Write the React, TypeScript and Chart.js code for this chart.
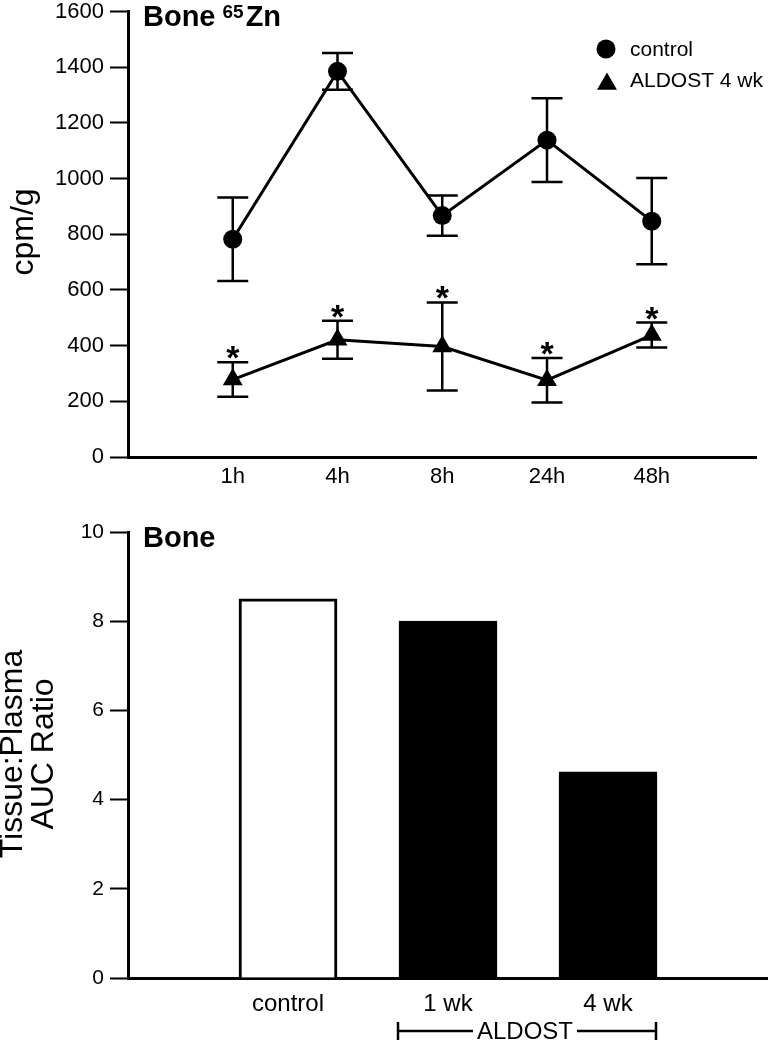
import React, { useEffect, useRef } from 'react';
import { Chart, registerables } from 'chart.js';

Chart.register(...registerables);

// ---------- data ----------
const timeLabels = ['', '1h', '4h', '8h', '24h', '48h', ''];
const controlMean = [null, 782, 1385, 867, 1138, 847, null];
const controlErr = [null, 150, 66, 72, 150, 155, null];
const aldostMean = [null, 278, 421, 397, 276, 438, null];
const aldostErr = [null, 62, 68, 158, 80, 45, null];
const aldostSignificant = [false, true, true, true, true, true, false];
const topYMax = 1600;
const topYStep = 200;

const barLabels = ['', 'control', '1 wk', '4 wk', ''];
const barValues = [null, 8.5, 8.0, 4.62, null];
const barFills = ['#ffffff', '#ffffff', '#000000', '#000000', '#ffffff'];
const bottomYMax = 10;
const bottomYStep = 2;
const bracketLabel = 'ALDOST';
const bracketFrom = 2; // index of '1 wk'
const bracketTo = 3; // index of '4 wk'

const FONT = "'Liberation Sans', Arial, Helvetica, sans-serif";

function drawTriangle(ctx: CanvasRenderingContext2D, x: number, y: number, r: number) {
  ctx.beginPath();
  ctx.moveTo(x, y - r);
  ctx.lineTo(x + r * Math.sin((2 * Math.PI) / 3), y - r * Math.cos((2 * Math.PI) / 3));
  ctx.lineTo(x + r * Math.sin((4 * Math.PI) / 3), y - r * Math.cos((4 * Math.PI) / 3));
  ctx.closePath();
  ctx.fill();
}

const zeroPadX = (s: any, h: number) => {
  s.height = h;
  s.paddingLeft = 0;
  s.paddingRight = 0;
};
const zeroPadY = (s: any) => {
  s.width = 128;
  s.paddingTop = 0;
  s.paddingBottom = 0;
};

const errorBarPlugin = {
  id: 'errorBars',
  beforeDatasetsDraw(chart: any) {
    const { ctx } = chart;
    const xs = chart.scales.x;
    const ys = chart.scales.y;
    const sets: [Array<number | null>, Array<number | null>][] = [
      [controlMean, controlErr],
      [aldostMean, aldostErr],
    ];
    ctx.save();
    ctx.strokeStyle = '#000';
    ctx.lineWidth = 2.5;
    ctx.lineCap = 'butt';
    sets.forEach(([m, e]) => {
      m.forEach((v, i) => {
        if (v == null || e[i] == null) return;
        const px = xs.getPixelForValue(i);
        const top = ys.getPixelForValue(v + (e[i] as number));
        const bot = ys.getPixelForValue(v - (e[i] as number));
        ctx.beginPath();
        ctx.moveTo(px, top);
        ctx.lineTo(px, bot);
        ctx.moveTo(px - 15.5, top);
        ctx.lineTo(px + 15.5, top);
        ctx.moveTo(px - 15.5, bot);
        ctx.lineTo(px + 15.5, bot);
        ctx.stroke();
      });
    });
    ctx.restore();
  },
  afterDatasetsDraw(chart: any) {
    const { ctx } = chart;
    const xs = chart.scales.x;
    const ys = chart.scales.y;
    ctx.save();
    ctx.fillStyle = '#000';
    ctx.font = `bold 34px ${FONT}`;
    ctx.textAlign = 'center';
    ctx.textBaseline = 'alphabetic';
    aldostMean.forEach((v, i) => {
      if (v == null || !aldostSignificant[i]) return;
      const px = xs.getPixelForValue(i);
      const top = ys.getPixelForValue(v + (aldostErr[i] as number));
      ctx.fillText('*', px, top + 7);
    });
    ctx.restore();
  },
};

const topTextPlugin = {
  id: 'topText',
  afterDraw(chart: any) {
    const { ctx } = chart;
    ctx.save();
    ctx.fillStyle = '#000';
    // title
    ctx.textAlign = 'left';
    ctx.textBaseline = 'alphabetic';
    ctx.font = `bold 29px ${FONT}`;
    const x0 = 143;
    ctx.fillText('Bone', x0, 26);
    const w1 = ctx.measureText('Bone').width;
    ctx.font = `bold 19px ${FONT}`;
    const xs = x0 + w1 + 7;
    ctx.fillText('65', xs, 18);
    const w2 = ctx.measureText('65').width;
    ctx.font = `bold 29px ${FONT}`;
    ctx.fillText('Zn', xs + w2 + 2, 26);

    // legend
    ctx.beginPath();
    ctx.arc(606, 49, 9.5, 0, Math.PI * 2);
    ctx.fill();
    drawTriangle(ctx, 607, 84, 11.5);
    ctx.font = `21px ${FONT}`;
    ctx.textBaseline = 'middle';
    ctx.fillText('control', 630, 50);
    ctx.fillText('ALDOST 4 wk', 630, 81);

    // y title
    ctx.save();
    ctx.translate(24, 232);
    ctx.rotate(-Math.PI / 2);
    ctx.textAlign = 'center';
    ctx.textBaseline = 'middle';
    ctx.font = `32px ${FONT}`;
    ctx.fillText('cpm/g', 0, 0);
    ctx.restore();
    ctx.restore();
  },
};

const bottomTextPlugin = {
  id: 'bottomText',
  afterDraw(chart: any) {
    const { ctx } = chart;
    const xs = chart.scales.x;
    ctx.save();
    ctx.fillStyle = '#000';
    ctx.strokeStyle = '#000';
    ctx.textAlign = 'left';
    ctx.textBaseline = 'alphabetic';
    ctx.font = `bold 29px ${FONT}`;
    ctx.fillText('Bone', 143, 47);

    // y title (two lines)
    ctx.save();
    ctx.translate(0, 254);
    ctx.rotate(-Math.PI / 2);
    ctx.textAlign = 'center';
    ctx.textBaseline = 'middle';
    ctx.font = `32px ${FONT}`;
    ctx.fillText('Tissue:Plasma', 0, 13);
    ctx.fillText('AUC Ratio', 0, 44);
    ctx.restore();

    // bracket
    const left = xs.getPixelForValue(bracketFrom) - 50;
    const right = xs.getPixelForValue(bracketTo) + 48;
    const y = 531;
    ctx.font = `24px ${FONT}`;
    ctx.textAlign = 'center';
    ctx.textBaseline = 'middle';
    const mid = (left + right) / 2 - 2;
    const tw = ctx.measureText(bracketLabel).width;
    ctx.fillText(bracketLabel, mid, y + 1);
    ctx.lineWidth = 2.5;
    ctx.beginPath();
    ctx.moveTo(left, y);
    ctx.lineTo(mid - tw / 2 - 4, y);
    ctx.moveTo(mid + tw / 2 + 4, y);
    ctx.lineTo(right, y);
    ctx.moveTo(left, y - 9);
    ctx.lineTo(left, y + 9);
    ctx.moveTo(right, y - 9);
    ctx.lineTo(right, y + 9);
    ctx.stroke();
    ctx.restore();
  },
};

function TopChart() {
  const ref = useRef<HTMLCanvasElement | null>(null);
  useEffect(() => {
    if (!ref.current) return;
    const chart = new Chart(ref.current, {
      type: 'line',
      data: {
        labels: timeLabels,
        datasets: [
          {
            label: 'control',
            data: controlMean as any,
            borderColor: '#000',
            backgroundColor: '#000',
            borderWidth: 3,
            pointStyle: 'circle',
            pointRadius: 9.5,
            pointBackgroundColor: '#000',
            pointBorderWidth: 0,
            tension: 0,
          },
          {
            label: 'ALDOST 4 wk',
            data: aldostMean as any,
            borderColor: '#000',
            backgroundColor: '#000',
            borderWidth: 3,
            pointStyle: 'triangle',
            pointRadius: 11.5,
            pointBackgroundColor: '#000',
            pointBorderWidth: 0,
            tension: 0,
          },
        ],
      },
      options: {
        animation: false,
        responsive: false,
        maintainAspectRatio: false,
        layout: { padding: { top: 10, left: 0, right: 0, bottom: 0 } },
        plugins: { legend: { display: false }, tooltip: { enabled: false } },
        scales: {
          x: {
            type: 'category',
            offset: false,
            grid: { display: false, drawTicks: false },
            border: { display: true, color: '#000', width: 3 },
            ticks: {
              autoSkip: false,
              maxRotation: 0,
              padding: 7,
              color: '#000',
              font: { family: FONT, size: 22 },
            },
            afterFit: (s: any) => zeroPadX(s, 43),
          },
          y: {
            min: 0,
            max: topYMax,
            ticks: {
              stepSize: topYStep,
              color: '#000',
              padding: 6,
              font: { family: FONT, size: 22 },
              callback: (v: any) => String(v),
            },
            grid: { drawOnChartArea: false, drawTicks: true, tickLength: 18, tickWidth: 2, tickColor: '#000' },
            border: { display: true, color: '#000', width: 3 },
            afterFit: zeroPadY,
          },
        },
      } as any,
      plugins: [errorBarPlugin, topTextPlugin],
    });
    return () => chart.destroy();
  }, []);
  return <canvas ref={ref} width={768} height={500} style={{ display: 'block', width: 768, height: 500 }} />;
}

function BottomChart() {
  const ref = useRef<HTMLCanvasElement | null>(null);
  useEffect(() => {
    if (!ref.current) return;
    const chart = new Chart(ref.current, {
      type: 'bar',
      data: {
        labels: barLabels,
        datasets: [
          {
            label: 'Tissue:Plasma AUC Ratio',
            data: barValues as any,
            backgroundColor: barFills,
            borderColor: '#000',
            borderWidth: 3,
            barThickness: 98,
            borderSkipped: 'start',
          },
        ],
      },
      options: {
        animation: false,
        responsive: false,
        maintainAspectRatio: false,
        layout: { padding: { top: 32, left: 0, right: 0, bottom: 0 } },
        plugins: { legend: { display: false }, tooltip: { enabled: false } },
        scales: {
          x: {
            type: 'category',
            offset: false,
            grid: { display: false, drawTicks: false },
            border: { display: true, color: '#000', width: 3 },
            ticks: {
              autoSkip: false,
              maxRotation: 0,
              padding: 12,
              color: '#000',
              font: { family: FONT, size: 24 },
            },
            afterFit: (s: any) => zeroPadX(s, 72),
          },
          y: {
            min: 0,
            max: bottomYMax,
            ticks: {
              stepSize: bottomYStep,
              color: '#000',
              padding: 6,
              font: { family: FONT, size: 21 },
              callback: (v: any) => String(v),
            },
            grid: { drawOnChartArea: false, drawTicks: true, tickLength: 18, tickWidth: 2, tickColor: '#000' },
            border: { display: true, color: '#000', width: 3 },
            afterFit: zeroPadY,
          },
        },
      } as any,
      plugins: [bottomTextPlugin],
    });
    return () => chart.destroy();
  }, []);
  return <canvas ref={ref} width={768} height={550} style={{ display: 'block', width: 768, height: 550 }} />;
}

export default function App() {
  return (
    <div style={{ position: 'absolute', left: 0, top: 0, width: 768, height: 1050, background: '#fff' }}>
      <TopChart />
      <BottomChart />
    </div>
  );
}
